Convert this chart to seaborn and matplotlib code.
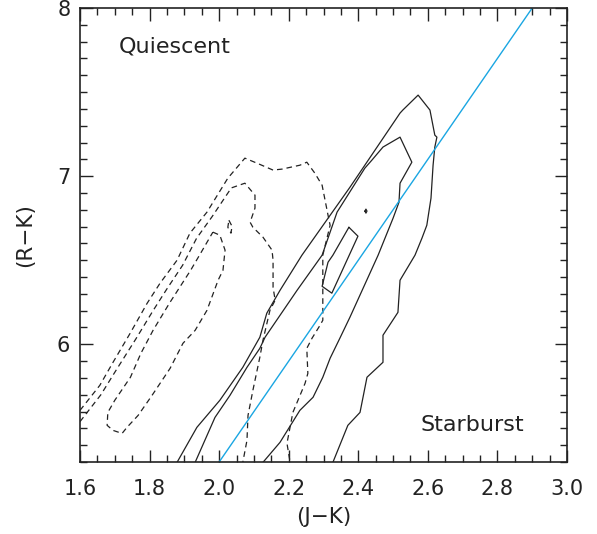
import numpy as np
import pandas as pd
import matplotlib
matplotlib.use("Agg")
import matplotlib.pyplot as plt
import seaborn as sns

# ---------------- data ----------------
# Quiescent density contours (dashed)
q1_x = [1.600, 1.657, 1.695, 1.744, 1.793, 1.830, 1.879, 1.916, 1.965, 2.025, 2.074, 2.109,
        2.155, 2.181, 2.232, 2.252, 2.275, 2.296, 2.313, 2.319, 2.298, 2.298, 2.298, 2.290,
        2.267, 2.252, 2.255, 2.247, 2.212, 2.195, 2.204]
q1_y = [5.607, 5.756, 5.893, 6.065, 6.244, 6.363, 6.500, 6.661, 6.786, 6.988, 7.107, 7.077,
        7.036, 7.042, 7.065, 7.083, 7.018, 6.946, 6.768, 6.708, 6.530, 6.351, 6.143, 6.113,
        6.036, 5.976, 5.827, 5.768, 5.595, 5.411, 5.298]

q2_x = [1.600, 1.660, 1.705, 1.760, 1.810, 1.850, 1.895, 1.935, 1.980, 2.035, 2.074, 2.103,
        2.103, 2.089, 2.097, 2.126, 2.152, 2.155, 2.155, 2.161, 2.146, 2.126, 2.117, 2.097,
        2.083, 2.080, 2.068]
q2_y = [5.540, 5.700, 5.850, 6.030, 6.200, 6.330, 6.470, 6.630, 6.760, 6.930, 6.958, 6.887,
        6.810, 6.726, 6.696, 6.637, 6.560, 6.500, 6.339, 6.262, 6.202, 6.024, 5.923, 5.726,
        5.577, 5.429, 5.298]

q3_x = [1.982, 2.002, 2.017, 2.011, 1.997, 1.965, 1.931, 1.896, 1.859, 1.807, 1.767, 1.735,
        1.721, 1.695, 1.678, 1.680, 1.700, 1.745, 1.775, 1.810, 1.857, 1.918, 1.952, 1.982]
q3_y = [6.667, 6.649, 6.560, 6.440, 6.381, 6.202, 6.083, 6.006, 5.857, 5.696, 5.577, 5.506,
        5.470, 5.488, 5.518, 5.595, 5.667, 5.804, 5.946, 6.083, 6.244, 6.440, 6.560, 6.667]

q4_x = [2.028, 2.037, 2.034, 2.025, 2.028]
q4_y = [6.738, 6.702, 6.661, 6.696, 6.738]

# Starburst density contours (solid)
s1_x = [1.879, 1.936, 2.002, 2.068, 2.117, 2.137, 2.175, 2.238, 2.376, 2.520, 2.528, 2.572,
        2.606, 2.620, 2.626, 2.620, 2.615, 2.609, 2.597, 2.583, 2.563, 2.520, 2.514, 2.471,
        2.471, 2.425, 2.405, 2.370, 2.327]
s1_y = [5.298, 5.506, 5.667, 5.863, 6.042, 6.185, 6.321, 6.530, 6.934, 7.375, 7.393, 7.482,
        7.393, 7.244, 7.232, 7.173, 7.065, 6.869, 6.708, 6.631, 6.530, 6.381, 6.190, 6.054,
        5.893, 5.804, 5.595, 5.518, 5.298]

s2_x = [1.931, 1.988, 2.031, 2.080, 2.117, 2.132, 2.224, 2.296, 2.339, 2.419, 2.439, 2.471,
        2.520, 2.554, 2.520, 2.517, 2.500, 2.457, 2.376, 2.347, 2.319, 2.298, 2.270, 2.232,
        2.175, 2.126]
s2_y = [5.298, 5.565, 5.696, 5.863, 5.976, 6.042, 6.321, 6.530, 6.786, 7.048, 7.095, 7.173,
        7.232, 7.083, 6.958, 6.845, 6.750, 6.530, 6.161, 6.036, 5.917, 5.804, 5.685, 5.607,
        5.417, 5.298]

s3_x = [2.373, 2.399, 2.324, 2.296, 2.313, 2.327, 2.373]
s3_y = [6.696, 6.643, 6.304, 6.345, 6.488, 6.530, 6.696]

s4_x = [2.419, 2.422, 2.425, 2.422, 2.419]
s4_y = [6.792, 6.804, 6.792, 6.780, 6.792]

# Dividing line (R-K) = 3 (J-K) - 0.7
line_x = [2.0, 2.9]
line_y = [5.3, 8.0]

x_ticks = [1.6, 1.8, 2.0, 2.2, 2.4, 2.6, 2.8, 3.0]
x_ticklabels = ["1.6", "1.8", "2.0", "2.2", "2.4", "2.6", "2.8", "3.0"]
y_ticks = [6, 7, 8]
y_ticklabels = ["6", "7", "8"]

# ---------------- plot ----------------
sns.set_theme(style="ticks")
plt.rcParams["font.family"] = ["DejaVu Sans"]

fig = plt.figure(figsize=(5.97, 5.34), dpi=100)
ax = fig.add_axes([80 / 597, 1 - 462 / 534, (567 - 80) / 597, (462 - 8) / 534])

ink = "#222222"
dash = (0, (4.5, 3.2))

for xs, ys in [(q1_x, q1_y), (q2_x, q2_y), (q3_x, q3_y), (q4_x, q4_y)]:
    sns.lineplot(x=xs, y=ys, sort=False, estimator=None, ax=ax, color=ink,
                 linewidth=0.9, linestyle=dash)

for xs, ys in [(s1_x, s1_y), (s2_x, s2_y), (s3_x, s3_y), (s4_x, s4_y)]:
    sns.lineplot(x=xs, y=ys, sort=False, estimator=None, ax=ax, color=ink,
                 linewidth=0.9)

sns.lineplot(x=line_x, y=line_y, sort=False, estimator=None, ax=ax,
             color="#1aa6e2", linewidth=1.0)

ax.set_xlim(1.6, 3.0)
ax.set_ylim(5.3, 8.0)
ax.set_xticks(x_ticks)
ax.set_xticklabels(x_ticklabels)
ax.set_yticks(y_ticks)
ax.set_yticklabels(y_ticklabels)
ax.set_xticks(np.arange(1.6, 3.0001, 0.05), minor=True)
ax.set_yticks(np.arange(5.3, 8.0001, 0.1), minor=True)

ax.tick_params(which="both", direction="in", top=True, right=True, color=ink,
               width=1.0)
ax.tick_params(which="major", length=9)
ax.tick_params(which="minor", length=5)
ax.tick_params(axis="x", which="major", pad=12, labelsize=15, labelcolor=ink)
ax.tick_params(axis="y", which="major", pad=7, labelsize=15, labelcolor=ink)

for s in ax.spines.values():
    s.set_visible(True)
    s.set_linewidth(1.2)
    s.set_color(ink)

ax.set_xlabel("(J\u2212K)", fontsize=15.5, color=ink, labelpad=6)
ax.set_ylabel("(R\u2212K)", fontsize=15.5, color=ink, labelpad=16)

ax.text(1.71, 7.77, "Quiescent", fontsize=16, color=ink, va="center", ha="left")
ax.text(2.58, 5.52, "Starburst", fontsize=16, color=ink, va="center", ha="left")

fig.savefig("out.png", dpi=100)
